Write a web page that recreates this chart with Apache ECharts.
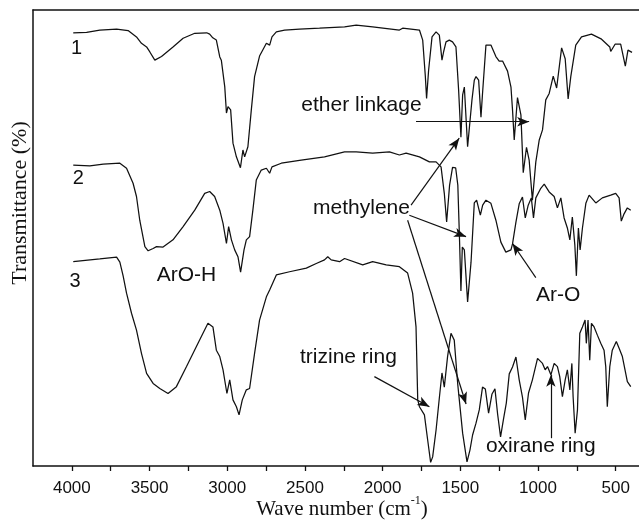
<!DOCTYPE html>
<html>
<head>
<meta charset="utf-8">
<script src="https://cdn.jsdelivr.net/npm/echarts@6/dist/echarts.min.js"></script>
<style>
  html, body { margin: 0; padding: 0; background: #fff; }
  #chart { width: 639px; height: 529px; }
</style>
</head>
<body>
<div id="chart"></div>
<script>
// ---- data (wave number cm^-1, transmittance in arbitrary % scale) ----
const spectrum1 = [[3991,95.0],[3905,95.1],[3820,95.6],[3712,95.8],[3638,95.5],[3584,94.1],[3552,92.7],[3519,91.9],[3498,90.8],[3466,89.0],[3423,89.8],[3349,91.9],[3284,93.8],[3209,94.9],[3132,95.0],[3113,94.7],[3093,93.9],[3070,93.4],[3048,89.7],[3038,89.0],[3016,83.2],[3005,77.4],[2995,78.8],[2978,78.1],[2963,70.8],[2941,67.8],[2915,65.4],[2899,69.3],[2888,67.8],[2867,70.0],[2845,78.1],[2824,85.4],[2792,89.9],[2748,92.7],[2727,92.3],[2712,94.1],[2684,95.2],[2631,95.6],[2535,95.8],[2406,96.0],[2245,96.3],[2170,96.7],[2064,96.3],[1892,95.6],[1871,96.0],[1763,95.6],[1742,93.4],[1725,85.4],[1717,80.6],[1704,86.8],[1682,94.1],[1656,95.2],[1635,94.5],[1618,89.0],[1607,90.9],[1592,93.0],[1571,93.4],[1550,93.0],[1528,91.9],[1511,82.5],[1496,72.1],[1485,81.4],[1474,83.1],[1453,70.0],[1425,80.3],[1410,84.6],[1399,85.4],[1382,84.6],[1367,76.5],[1357,81.7],[1335,92.3],[1303,92.3],[1271,89.8],[1250,88.8],[1228,88.8],[1196,86.6],[1174,83.1],[1164,78.1],[1153,71.5],[1132,80.8],[1110,77.0],[1095,64.3],[1074,69.9],[1057,67.1],[1036,58.3],[1014,66.7],[992,71.5],[971,73.7],[950,80.3],[928,81.7],[902,85.5],[880,82.9],[848,91.7],[825,89.3],[806,80.5],[789,85.4],[757,92.3],[720,94.1],[656,94.7],[591,93.6],[538,91.9],[532,90.9],[504,92.5],[468,92.5],[457,92.3],[438,87.7],[421,91.2],[395,90.7]];

const spectrum2 = [[3991,66.0],[3884,65.8],[3798,66.2],[3691,66.4],[3648,65.3],[3606,62.0],[3584,59.1],[3563,53.9],[3530,48.1],[3509,47.2],[3477,47.7],[3455,48.1],[3413,48.0],[3349,49.6],[3284,52.5],[3209,56.1],[3145,59.8],[3113,60.2],[3081,59.1],[3048,56.1],[3027,53.2],[3005,48.8],[2991,52.5],[2973,49.6],[2952,47.4],[2931,45.9],[2914,42.5],[2892,47.4],[2877,49.6],[2856,50.3],[2835,56.1],[2813,62.7],[2781,64.9],[2748,65.3],[2727,64.2],[2712,65.6],[2652,66.4],[2524,67.1],[2374,67.8],[2245,68.9],[2170,68.9],[2064,68.6],[1956,68.9],[1892,68.2],[1849,68.6],[1763,67.8],[1699,66.7],[1656,66.7],[1624,65.6],[1603,59.8],[1588,53.5],[1569,61.6],[1550,65.5],[1530,65.4],[1516,61.6],[1505,49.6],[1496,38.4],[1487,48.0],[1474,47.4],[1453,36.0],[1431,44.7],[1410,57.7],[1395,58.3],[1371,55.0],[1356,57.2],[1335,58.3],[1303,57.6],[1271,53.9],[1239,49.1],[1207,46.9],[1174,47.4],[1164,48.7],[1142,53.5],[1121,57.5],[1100,59.0],[1082,54.4],[1063,57.2],[1043,58.8],[1029,54.4],[1014,58.8],[982,60.9],[960,61.8],[928,60.1],[896,59.1],[875,56.6],[853,58.8],[832,54.4],[811,52.2],[795,49.6],[779,54.6],[763,48.5],[753,41.7],[740,52.2],[729,47.4],[714,52.2],[692,57.6],[671,59.4],[628,57.7],[586,58.8],[532,59.4],[500,59.8],[478,58.8],[464,53.7],[446,55.3],[425,56.6],[403,56.1]];

const spectrum3 = [[3991,44.8],[3820,45.4],[3712,45.8],[3691,44.7],[3670,41.7],[3648,37.9],[3616,33.5],[3584,29.8],[3552,24.7],[3519,20.3],[3477,18.1],[3434,17.0],[3381,15.9],[3327,17.4],[3262,21.8],[3188,26.9],[3124,31.3],[3092,30.5],[3070,25.4],[3048,24.0],[3027,21.1],[3002,15.9],[2984,18.9],[2963,14.5],[2941,13.0],[2924,11.2],[2903,14.5],[2877,16.7],[2856,17.0],[2824,24.7],[2792,32.0],[2748,37.1],[2727,38.6],[2684,41.9],[2599,42.6],[2491,43.4],[2427,44.4],[2374,45.2],[2353,45.9],[2331,45.2],[2277,44.8],[2245,45.5],[2128,44.1],[2064,44.8],[1977,44.1],[1892,43.7],[1839,42.3],[1807,37.9],[1785,30.5],[1774,14.5],[1763,13.0],[1731,11.2],[1710,5.7],[1691,0.8],[1678,2.0],[1656,7.9],[1635,14.9],[1618,20.4],[1603,17.3],[1582,24.0],[1560,29.1],[1539,27.6],[1517,18.1],[1485,7.2],[1457,0.9],[1438,3.5],[1421,6.8],[1399,9.4],[1378,12.3],[1357,17.3],[1339,16.9],[1318,11.6],[1296,15.8],[1277,16.9],[1260,11.4],[1241,6.4],[1221,10.5],[1204,13.8],[1185,20.2],[1164,21.7],[1142,23.9],[1121,18.9],[1100,15.1],[1082,10.1],[1061,16.0],[1036,18.9],[1003,23.6],[971,22.5],[954,21.1],[939,21.8],[917,20.0],[896,22.5],[875,21.8],[860,19.6],[843,15.2],[825,18.9],[811,21.1],[795,16.7],[782,22.5],[774,15.2],[761,7.2],[746,12.3],[731,29.1],[714,30.5],[697,32.0],[689,26.9],[678,32.0],[667,23.2],[656,31.3],[639,30.5],[618,28.7],[596,26.9],[575,25.4],[564,21.8],[554,13.0],[538,21.8],[522,25.4],[496,27.3],[478,25.8],[457,24.0],[440,21.1],[425,18.5],[414,18.9],[403,17.4]];

const xLabelValues = [4000, 3500, 3000, 2500, 2000, 1500, 1000, 500];
const xTickValues = [4000, 3750, 3500, 3250, 3000, 2750, 2500, 2250, 2000, 1750, 1500, 1250, 1000, 750, 500];

// annotation texts and their anchor points [wave, transmittance]
const curveLabels = ['1', '2', '3'];
const curveLabelPos = [[3969, 91.6], [3959, 63.0], [3980, 40.5]];
const noteTexts = ['ether linkage', 'methylene', 'ArO-H', 'Ar-O', 'trizine ring', 'oxirane ring'];
const notePos = [[2136, 79.2], [2136, 56.6], [3262, 41.9], [870, 37.5], [2220, 23.9], [982, 4.3]];
// arrows: [from, to]
const arrows = [
  [[1785, 75.5], [1057, 75.5]],
  [[1817, 57.2], [1507, 71.9]],
  [[1828, 55.0], [1463, 50.3]],
  [[1839, 53.9], [1463, 13.6]],
  [[1014, 41.3], [1164, 48.8]],
  [[2053, 19.6], [1699, 13.0]],
  [[917, 6.1], [917, 20.0]]
];

const INK = '#111';
const SANS = '"Liberation Sans", Arial, sans-serif';
const SERIF = '"Liberation Serif", "Times New Roman", serif';

const chart = echarts.init(document.getElementById('chart'), null, { renderer: 'canvas' });

function lineSeries(data, extra) {
  return Object.assign({
    type: 'line',
    data: data,
    showSymbol: false,
    symbol: 'none',
    smooth: false,
    silent: true,
    animation: false,
    lineStyle: { color: INK, width: 1.25 },
    z: 3
  }, extra || {});
}

const option = {
  backgroundColor: '#fff',
  animation: false,
  grid: { left: 33, top: 10, width: 607, height: 456, containLabel: false },
  xAxis: [
    {
      type: 'value', min: 350, max: 4250, inverse: true,
      axisLine: { show: true, onZero: false, lineStyle: { color: INK, width: 1.5 } },
      axisTick: { show: true, inside: false, length: 5, customValues: xTickValues, lineStyle: { color: INK, width: 1.3 } },
      axisLabel: { show: true, customValues: xLabelValues, margin: 14, color: INK, fontSize: 17, fontFamily: SANS,
        formatter: v => String(v) },
      splitLine: { show: false }
    },
    {
      type: 'value', min: 350, max: 4250, inverse: true, position: 'top',
      axisLine: { show: true, onZero: false, lineStyle: { color: INK, width: 1.5 } },
      axisTick: { show: false }, axisLabel: { show: false }, splitLine: { show: false }
    }
  ],
  yAxis: {
    type: 'value', min: 0, max: 100,
    axisLine: { show: true, onZero: false, lineStyle: { color: INK, width: 1.5 } },
    axisTick: { show: false }, axisLabel: { show: false }, splitLine: { show: false }
  },
  series: [
    lineSeries(spectrum1, {
      markLine: {
        silent: true, animation: false,
        symbol: ['none', 'arrow'], symbolSize: [7, 12],
        label: { show: false },
        lineStyle: { color: INK, width: 1.2, type: 'solid' },
        itemStyle: { color: INK },
        emphasis: { disabled: true },
        data: arrows.map(a => [{ coord: a[0] }, { coord: a[1] }])
      }
    }),
    lineSeries(spectrum2),
    lineSeries(spectrum3)
  ]
};

chart.setOption(option);

const toPx = p => chart.convertToPixel({ gridIndex: 0 }, p);
const graphics = [];
curveLabels.forEach((t, i) => {
  const p = toPx(curveLabelPos[i]);
  graphics.push({ type: 'text', x: p[0], y: p[1], silent: true,
    style: { text: t, font: '20px ' + SANS, fill: INK, align: 'center', verticalAlign: 'middle' } });
});
noteTexts.forEach((t, i) => {
  const p = toPx(notePos[i]);
  graphics.push({ type: 'text', x: p[0], y: p[1], silent: true,
    style: { text: t, font: '21px ' + SANS, fill: INK, align: 'center', verticalAlign: 'middle' } });
});
// axis titles
graphics.push({ type: 'text', x: 20, y: 203, rotation: Math.PI / 2, silent: true,
  style: { text: 'Transmittance (%)', font: '22px ' + SERIF, fill: INK, align: 'center', verticalAlign: 'middle' } });
graphics.push({ type: 'text', x: 342, y: 509, silent: true,
  style: {
    text: '{a|Wave number (cm}{b|-1}{a|)}',
    align: 'center', verticalAlign: 'middle',
    rich: {
      a: { fontSize: 21, fontFamily: SERIF, fill: INK, lineHeight: 28, verticalAlign: 'middle' },
      b: { fontSize: 12, fontFamily: SERIF, fill: INK, lineHeight: 12, verticalAlign: 'top' }
    }
  } });

chart.setOption({ graphic: { elements: graphics } });
</script>
</body>
</html>
